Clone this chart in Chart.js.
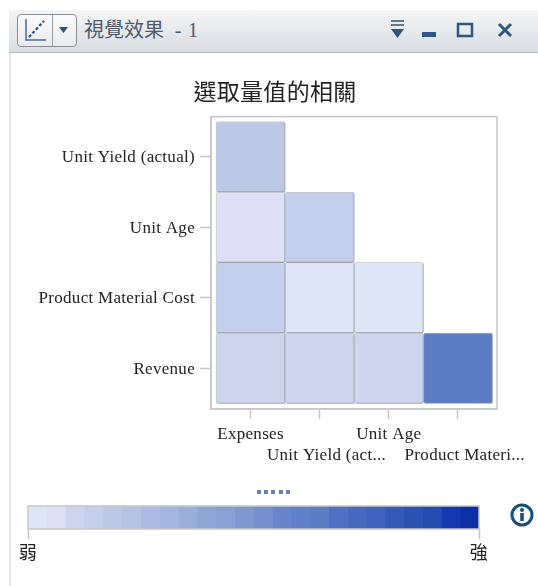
<!DOCTYPE html>
<html>
<head>
<meta charset="utf-8">
<script src="https://cdn.jsdelivr.net/npm/chart.js@4"></script>
<style>
    html, body { margin: 0; padding: 0; background: #fff; }
    body { position: relative; width: 538px; height: 586px; overflow: hidden; }
    canvas { position: absolute; left: 0; }
    #sideLine { position: absolute; left: 9px; top: 10px; width: 2px; height: 576px; background: #e2e6f0; }
    #header {
        position: absolute; left: 9px; top: 10px; width: 529px; height: 42px;
        background: linear-gradient(#f4f5f5, #d9dde2);
        border-bottom: 1px solid #b4b8bd;
    }
    #typeBtn {
        position: absolute; left: 8px; top: 4px; width: 60px; height: 33px; box-sizing: border-box;
        border: 1px solid #8b8f94; border-radius: 4px; background: linear-gradient(#fbfbfb, #e9ebed);
    }
    #typeBtn i { position: absolute; left: 34px; top: 0; width: 1px; height: 31px; background: #9a9ea3; }
    #headerText {
        position: absolute; left: 75px; top: 6px; font: 20px "Liberation Serif", "Noto Sans CJK TC"; color: #4e5b6e; line-height: 28px;
    }
    #headerText span { letter-spacing: 0.8px; margin-left: 5px; }
    .icon { position: absolute; }
    #dots { position: absolute; left: 257px; top: 490px; font: bold 0/0 serif; }
    #dots b { display: inline-block; width: 4px; height: 4px; margin-right: 3.2px; background: #6a83ad; }
</style>
</head>
<body>
<div id="sideLine"></div>
<div id="header">
    <div id="typeBtn">
        <svg class="icon" style="left:6px;top:3px" width="24" height="25">
            <path d="M2 1V22H22" fill="none" stroke="#4a6a9c" stroke-width="1.5"/>
            <path d="M5 19L20 3" fill="none" stroke="#2b4f86" stroke-width="2.2" stroke-dasharray="3 2"/>
        </svg>
        <i></i>
        <svg class="icon" style="left:41px;top:12px" width="10" height="7"><path d="M0 0H9L4.5 6Z" fill="#2f4f78"/></svg>
    </div>
    <div id="headerText">視覺效果<span> - 1</span></div>
    <svg class="icon" style="left:381px;top:10px" width="15" height="20">
        <path d="M1 1H14M1 5H14" stroke="#2f5680" stroke-width="1.5"/><path d="M1 9H14L7.5 18Z" fill="#2f5680"/>
    </svg>
    <svg class="icon" style="left:412px;top:21px" width="15" height="7"><rect width="14" height="5" y="1" x="1" fill="#2f5680"/></svg>
    <svg class="icon" style="left:447px;top:12px" width="18" height="16"><rect x="2" y="2" width="14" height="12" fill="none" stroke="#2f5680" stroke-width="2.5"/></svg>
    <svg class="icon" style="left:488px;top:12px" width="16" height="16"><path d="M2 2L14 14M14 2L2 14" stroke="#2f5680" stroke-width="3"/></svg>
</div>
<canvas id="corrChart" width="538" height="586" style="top:0"></canvas>
<div id="dots"><b></b><b></b><b></b><b></b><b></b></div>
<canvas id="legendChart" width="538" height="91" style="top:495px"></canvas>
<svg class="icon" style="left:510px;top:503px" width="24" height="24">
    <circle cx="12" cy="12" r="10" fill="#fff" stroke="#17507f" stroke-width="3"/>
    <rect x="10.2" y="10" width="3.6" height="8" fill="#17507f"/><circle cx="12" cy="7" r="2" fill="#17507f"/>
</svg>
<script>
const titleText = "選取量值的相關";
const xLabels = ["Expenses", "Unit Yield (act...", "Unit Age", "Product Materi..."];
const yLabels = ["Unit Yield (actual)", "Unit Age", "Product Material Cost", "Revenue"];

// correlation strength per row, 0 = weak, 1 = strong
const unitYieldRow = [0.17];
const unitAgeRow = [0.04, 0.13];
const materialCostRow = [0.13, 0, 0];
const revenueRow = [0.09, 0.09, 0.09, 0.65];
const rows = [unitYieldRow, unitAgeRow, materialCostRow, revenueRow];

const legendLabels = ["弱", "強"];
const palette = [
    "#dde6f6", "#dedff4", "#cdd6ee", "#c4cfee", "#bcc8e6", "#b5c2e5", "#abbbe3", "#a4b5e1",
    "#9badd9", "#8ea7d7", "#8a9fd4", "#7f98d1", "#7690ce", "#6885cc", "#6280c9", "#5c7cc6",
    "#5170c4", "#4868bf", "#4062bc", "#3459b7", "#2c52b5", "#234bb2", "#1538ae", "#0c30a8"
];

const frameColor = "#c6c6c6";
const labelFont = { family: "Liberation Serif", size: 17, lineHeight: 1.25 };

function colorFor(value) {
    return palette[Math.round(value * (palette.length - 1))];
}

// frame around the plot area
const framePlugin = {
    id: "frame",
    beforeDraw(chart) {
        chart.ctx.letterSpacing = "0.3px";
    },
    afterDatasetsDraw(chart) {
        const a = chart.chartArea;
        const ctx = chart.ctx;
        ctx.save();
        ctx.strokeStyle = frameColor;
        ctx.lineWidth = 1.5;
        ctx.strokeRect(a.left, a.top, a.right - a.left, a.bottom - a.top);
        ctx.restore();
    }
};

// soft shadow on the cells
const shadowPlugin = {
    id: "cellShadow",
    beforeDatasetsDraw(chart) {
        const ctx = chart.ctx;
        ctx.save();
        ctx.shadowColor = "rgba(0,0,0,0.3)";
        ctx.shadowBlur = 2;
        ctx.shadowOffsetX = 1;
        ctx.shadowOffsetY = 1;
    },
    afterDatasetsDraw(chart) {
        chart.ctx.restore();
    }
};

const datasets = rows.map((row, r) => ({
    data: row.map((v, c) => ({ x: c, y: [r - 0.5, r + 0.5] })),
    backgroundColor: row.map(colorFor),
    borderColor: "rgba(165,168,175,0.45)",
    borderWidth: 1,
    borderRadius: 2,
    borderSkipped: false,
    barPercentage: 1,
    categoryPercentage: 1,
    grouped: false
}));

function indexTicks(scale, count) {
    scale.ticks = [];
    for (let i = 0; i < count; i++) scale.ticks.push({ value: i });
}

new Chart(document.getElementById("corrChart"), {
    type: "bar",
    data: { datasets: datasets },
    plugins: [shadowPlugin, framePlugin],
    options: {
        responsive: false,
        animation: false,
        layout: { padding: { left: 12, right: 0, top: 0, bottom: 0 } },
        plugins: {
            legend: { display: false },
            tooltip: { enabled: false },
            title: {
                display: true,
                text: titleText,
                color: "#222",
                font: { family: "Noto Sans CJK TC", size: 23, weight: "normal" },
                padding: { top: 77, bottom: 12 }
            }
        },
        scales: {
            x: {
                type: "linear",
                offset: false,
                min: -0.572,
                max: 3.565,
                afterBuildTicks: s => indexTicks(s, xLabels.length),
                afterFit: s => { s.height = 177; s.paddingLeft = 0; s.paddingRight = 0; },
                border: { color: frameColor, width: 1.5 },
                grid: { offset: false, drawOnChartArea: false, color: frameColor, tickLength: 10, tickWidth: 1.5 },
                ticks: {
                    autoSkip: false,
                    maxRotation: 0,
                    padding: 5,
                    color: "#222",
                    font: labelFont,
                    // every other label drops to a second line, nudged right with spaces
                    callback: (v, i) => (i % 2 ? ["", "\u00a0\u00a0\u00a0" + xLabels[i]] : [xLabels[i], ""])
                }
            },
            y: {
                type: "linear",
                reverse: true,
                min: -0.57,
                max: 3.58,
                afterBuildTicks: s => indexTicks(s, yLabels.length),
                afterFit: s => { s.width = 199; s.paddingTop = 0; s.paddingBottom = 0; },
                border: { color: frameColor, width: 1.5 },
                grid: { drawOnChartArea: false, color: frameColor, tickLength: 11, tickWidth: 1.5 },
                ticks: {
                    autoSkip: false,
                    padding: 5,
                    labelOffset: 1,
                    color: "#222",
                    font: labelFont,
                    callback: (v, i) => yLabels[i]
                }
            },
            // empty axis, only holds the right margin so the title stays centred where it is
            spacer: {
                type: "linear",
                position: "right",
                afterFit: s => { s.width = 41; s.paddingTop = 0; s.paddingBottom = 0; },
                border: { display: false },
                grid: { display: false },
                ticks: { display: false }
            }
        }
    }
});

// colour legend: one stacked segment per palette step
new Chart(document.getElementById("legendChart"), {
    type: "bar",
    data: {
        labels: [""],
        datasets: palette.map(c => ({ data: [1], backgroundColor: c, barPercentage: 1, categoryPercentage: 1 }))
    },
    plugins: [framePlugin],
    options: {
        indexAxis: "y",
        responsive: false,
        animation: false,
        layout: { padding: { left: 28, right: 59, top: 11, bottom: 0 } },
        plugins: { legend: { display: false }, tooltip: { enabled: false } },
        scales: {
            x: {
                type: "linear",
                stacked: true,
                min: 0,
                max: palette.length,
                afterBuildTicks: s => { s.ticks = [{ value: 0 }, { value: palette.length }]; },
                afterFit: s => { s.height = 57; s.paddingLeft = 0; s.paddingRight = 0; },
                border: { display: false },
                grid: { offset: false, drawOnChartArea: false, color: frameColor, tickLength: 10, tickWidth: 1.5 },
                ticks: {
                    autoSkip: false,
                    maxRotation: 0,
                    padding: 2,
                    color: "#222",
                    font: { family: "Noto Sans CJK TC", size: 18 },
                    callback: (v, i) => legendLabels[i]
                }
            },
            y: { stacked: true, display: false }
        }
    }
});
</script>
</body>
</html>
